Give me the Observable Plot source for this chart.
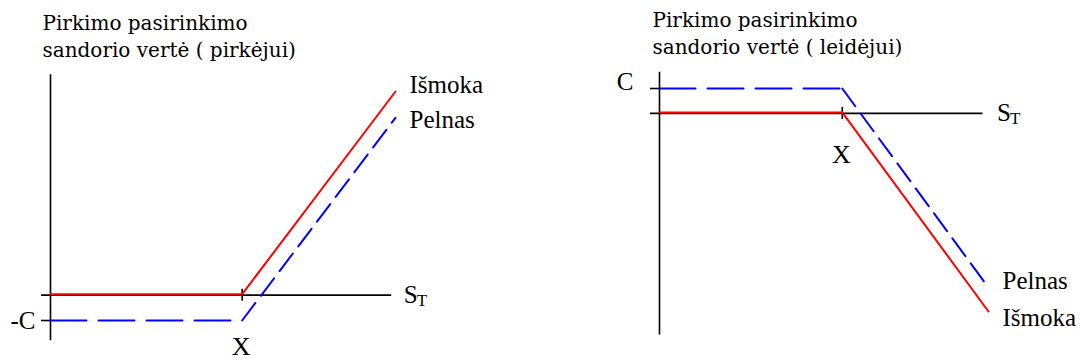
<!DOCTYPE html>
<html><head><meta charset="utf-8">
<script src="https://cdn.jsdelivr.net/npm/d3@7"></script>
<script src="https://cdn.jsdelivr.net/npm/@observablehq/plot@0.6"></script>
<style>
body{margin:0;background:#fff;}
#wrap{display:flex;width:1082px;height:361px;}
#wrap svg{display:block;}
</style></head><body>
<div id="wrap"></div>
<script>
// ---- data ----
const strike = 100;              // X
const premium = 10;              // C
const sTerminal = [0, 100, 180]; // S_T
const buyerPayoff = [0, 0, 80];
const buyerProfit = [-10, -10, 70];
const sellerPayoff = [0, 0, -80];
const sellerProfit = [10, 10, -70];
const leftTitle = ["Pirkimo pasirinkimo", "sandorio vertė ( pirkėjui)"];
const rightTitle = ["Pirkimo pasirinkimo", "sandorio vertė ( leidėjui)"];
const payoffLabel = "Išmoka";
const profitLabel = "Pelnas";
const axisLabelS = "S", axisLabelSub = "T";
const strikeLabel = "X";
const buyerPremiumLabel = "-C", sellerPremiumLabel = "C";
const leftAxisX = [0, 178];
const leftAxisY = [-18, 87];
const rightAxisX = [0, 177];
const rightAxisY = [-89, 16.5];

const FONT = "Liberation Serif";
const TFONT = "DejaVu Serif";
const RED = "#ff0000", BLUE = "#0000ff";

function segRows(vals) {
  return [
    {s: sTerminal[0], v: vals[0], seg: "a"},
    {s: sTerminal[1], v: vals[1], seg: "a"},
    {s: sTerminal[1], v: vals[1], seg: "b"},
    {s: sTerminal[2], v: vals[2], seg: "b"}
  ];
}

function panel(opts) {
  const prof = segRows(opts.profit);
  const chart = Plot.plot({
    width: 541, height: 361,
    marginLeft: opts.ml, marginRight: opts.mr, marginTop: opts.mt, marginBottom: opts.mb,
    x: {domain: [sTerminal[0], sTerminal[2]], axis: null},
    y: {domain: opts.yDomain, axis: null},
    style: {fontFamily: FONT, background: "#fff", overflow: "visible"},
    marks: [
      // title
      Plot.text([opts.title.join("\n")], {frameAnchor: "top-left", text: d => d, textAnchor: "start", lineAnchor: "top", lineHeight: 27 / 20, dx: opts.tDx, dy: opts.tDy, fontSize: 20, fontFamily: TFONT, fill: "#000"}),
      // vertical axis
      Plot.ruleX([0], {y1: opts.axisY[0], y2: opts.axisY[1], stroke: "#000", strokeWidth: 1.6}),
      // horizontal axis (with the small tick at 0 on the left)
      Plot.ruleY([0], {x1: opts.axisX[0], x2: opts.axisX[1], insetLeft: -9, stroke: "#000", strokeWidth: 1.6}),
      // tick at premium level
      Plot.ruleY([opts.premiumLevel], {x1: 0, x2: 0, insetLeft: -9, stroke: "#000", strokeWidth: 1.6}),
      // tick at strike
      Plot.ruleX([strike], {y1: 0, y2: 0, insetTop: -6, insetBottom: -6, stroke: "#000", strokeWidth: 1.6}),
      // profit (blue dashed): flat part and sloped part
      Plot.line(prof.filter(d => d.seg === "a"), {x: "s", y: "v", stroke: BLUE, strokeWidth: 2, strokeDasharray: "36,12"}),
      Plot.line(prof.filter(d => d.seg === "b"), {x: "s", y: "v", stroke: BLUE, strokeWidth: 2, strokeDasharray: "22,9"}),
      // payoff (red)
      Plot.line(segRows(opts.payoff), {x: "s", y: "v", z: "seg", stroke: RED, strokeWidth: 2, dy: -1}),
      // labels
      Plot.text([payoffLabel], {x: sTerminal[2], y: opts.payoff[2], text: d => d, textAnchor: "start", dx: 14, dy: opts.payoffDy, fontSize: 25, fontFamily: FONT, fill: "#000"}),
      Plot.text([profitLabel], {x: sTerminal[2], y: opts.profit[2], text: d => d, textAnchor: "start", dx: 14, dy: opts.profitDy, fontSize: 25, fontFamily: FONT, fill: "#000"}),
      Plot.text([axisLabelS], {x: opts.axisX[1], y: 0, text: d => d, textAnchor: "start", dx: opts.sDx, dy: 0, fontSize: 25, fontFamily: FONT, fill: "#000"}),
      Plot.text([axisLabelSub], {x: opts.axisX[1], y: 0, text: d => d, textAnchor: "start", dx: opts.sDx + 13, dy: 5, fontSize: 17, fontFamily: FONT, fill: "#000"}),
      Plot.text([strikeLabel], {x: strike, y: 0, text: d => d, textAnchor: "middle", dx: -1, dy: opts.xDy, fontSize: 26, fontFamily: FONT, fill: "#000"}),
      Plot.text([opts.premiumLabel], {x: 0, y: opts.premiumLevel, text: d => d, textAnchor: "end", dx: opts.cDx, dy: opts.cDy, fontSize: 25, fontFamily: FONT, fill: "#000"})
    ]
  });
  return chart;
}

const wrap = document.getElementById("wrap");
wrap.appendChild(panel({
  title: leftTitle, tDx: -8, tDy: -82,
  ml: 50, mr: 146, mt: 92, mb: 41, yDomain: [-10, 80],
  axisX: leftAxisX, axisY: leftAxisY,
  payoff: buyerPayoff, profit: buyerProfit,
  premiumLevel: -premium, premiumLabel: buyerPremiumLabel,
  payoffDy: -8, profitDy: 2, sDx: 12, xDy: 52, cDx: -15, cDy: 0
}));
wrap.appendChild(panel({
  title: rightTitle, tDx: -7, tDy: -81,
  ml: 118, mr: 94, mt: 88, mb: 49, yDomain: [-80, 10],
  axisX: rightAxisX, axisY: rightAxisY,
  payoff: sellerPayoff, profit: sellerProfit,
  premiumLevel: premium, premiumLabel: sellerPremiumLabel,
  payoffDy: 5, profitDy: -7, sDx: 14, xDy: 41, cDx: -26, cDy: -7
}));
</script>
</body></html>
